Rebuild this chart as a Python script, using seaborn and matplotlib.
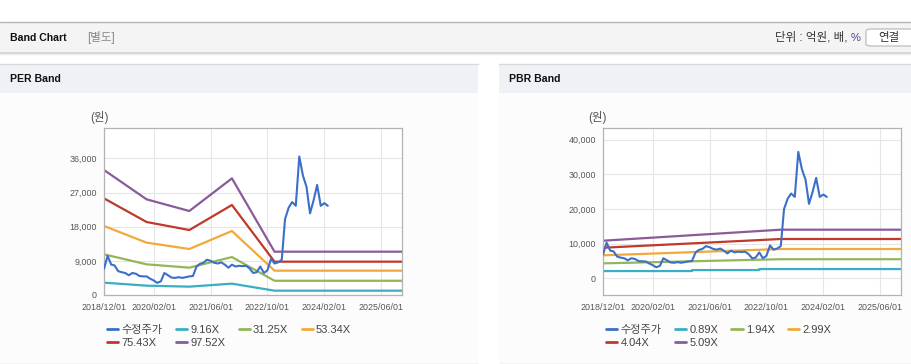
import pandas as pd
import matplotlib.pyplot as plt
import matplotlib.patches as mpatches
from matplotlib.lines import Line2D
import seaborn as sns

# ---------------------------------------------------------------------------
# Data
# ---------------------------------------------------------------------------
price_start = "2018-12-01"
price_values = [6900, 10300, 8000, 7800, 6300, 6000, 5800, 5200, 5800, 5600,
                5000, 4900, 4900, 4300, 3800, 3200, 3600, 5800, 5200, 4600,
                4500, 4700, 4500, 4700, 4900, 5000, 7500, 8200, 8500, 9300,
                9000, 8500, 8300, 8600, 8000, 7200, 8000, 7500, 7700, 7600,
                7700, 7000, 5800, 6000, 7500, 5800, 6500, 9500, 8300, 8600,
                9300, 20000, 23000, 24500, 23500, 36500, 31500, 28500, 21500, 25000,
                29000, 23500, 24200, 23500]

per_dates = ["2018-12-01", "2019-12-01", "2020-12-01", "2021-12-01", "2022-12-01", "2025-12-31"]
per_labels = ["9.16X", "31.25X", "53.34X", "75.43X", "97.52X"]
per_9_16 = [3250, 2460, 2200, 2990, 1140, 1140]
per_31_25 = [10710, 8080, 7200, 10000, 3750, 3750]
per_53_34 = [18180, 13790, 12120, 16860, 6410, 6410]
per_75_43 = [25460, 19230, 17120, 23710, 8780, 8780]
per_97_52 = [32930, 25200, 22130, 30730, 11410, 11410]

pbr_dates = ["2018-12-01", "2023-02-01", "2025-12-31"]
pbr_floor_dates = ["2018-12-01", "2021-01-01", "2021-01-02", "2022-08-01", "2022-08-02", "2025-12-31"]
pbr_labels = ["0.89X", "1.94X", "2.99X", "4.04X", "5.09X"]
pbr_0_89 = [2110, 2110, 2400, 2400, 2690, 2690]
pbr_1_94 = [4330, 5530, 5530]
pbr_2_99 = [6650, 8470, 8470]
pbr_4_04 = [8840, 11360, 11360]
pbr_5_09 = [10870, 14050, 14050]

tick_dates = ["2018-12-01", "2020-02-01", "2021-06-01", "2022-10-01", "2024-02-01", "2025-06-01"]
per_yticks = [0, 9000, 18000, 27000, 36000]
pbr_yticks = [0, 10000, 20000, 30000, 40000]

price_label = "수정주가"
price_color = "#3b6fc8"
band_colors = ["#3aaec2", "#93b658", "#f2a93b", "#c0392b", "#8b5a9b"]

# ---------------------------------------------------------------------------
# Figure + page chrome (pixel boxes, top-left origin)
# ---------------------------------------------------------------------------
W, H = 912, 364
sns.set_style("white")
plt.rcParams["font.family"] = ["Liberation Sans", "Noto Sans CJK KR", "DejaVu Sans"]

fig = plt.figure(figsize=(W / 100, H / 100), dpi=100)
fig.patch.set_facecolor("white")


def fbox(x0, y0, x1, y1):
    return [x0 / W, 1 - y1 / H, (x1 - x0) / W, (y1 - y0) / H]


def rect(x0, y0, x1, y1, fc, ec="none", lw=0, **kw):
    l, b, w, h = fbox(x0, y0, x1, y1)
    fig.add_artist(mpatches.Rectangle((l, b), w, h, transform=fig.transFigure,
                                      fc=fc, ec=ec, lw=lw, zorder=-5, **kw))


def hline(x0, x1, y, color, lw=1.0):
    fig.add_artist(Line2D([x0 / W, x1 / W], [1 - y / H, 1 - y / H],
                          transform=fig.transFigure, color=color, lw=lw, zorder=-4))


def ftext(x, y, s, **kw):
    fig.text(x / W, 1 - y / H, s, **kw)


# top header bar
rect(0, 22, W, 52, "#f4f4f4")
hline(0, W, 21.5, "#b5b5b5", 1.0)
hline(0, W, 52.5, "#d0d0d0", 1.2)
hline(0, W, 53.5, "#ebebeb", 1.0)
ftext(10, 38, "Band Chart", fontsize=7.6, fontweight="bold", color="#111", va="center")
ftext(87, 38, "[별도]", fontsize=8.3, color="#888", va="center")
ftext(851, 38, "단위 : 억원, 배, ", fontsize=8.3, color="#333", va="center", ha="right")
ftext(861, 38, "%", fontsize=8.0, color="#5a3f8f", va="center", ha="right")
btn = mpatches.FancyBboxPatch((866 / W, 1 - 46 / H), 50 / W, 17 / H,
                              boxstyle="round,pad=0,rounding_size=0.006",
                              transform=fig.transFigure, fc="white", ec="#bdbdbd",
                              lw=0.9, zorder=-3)
fig.add_artist(btn)
ftext(889, 38, "연결", fontsize=8.3, color="#333", va="center", ha="center")

# panel headers and bodies
for x0, x1, name in [(0, 478, "PER Band"), (499, W, "PBR Band")]:
    rect(x0, 64, x1, 93, "#eef1f6")
    rect(x0, 93, x1, 363, "#fcfcfc")
    hline(x0, x1, 64, "#d9d9d9", 1.0)
    hline(x0, x1, 363.5, "#d0d0d0", 1.0)
    ftext(x0 + 10, 79, name, fontsize=7.6, fontweight="bold", color="#111", va="center")

# ---------------------------------------------------------------------------
# Band charts
# ---------------------------------------------------------------------------
price_dates = pd.date_range(price_start, periods=len(price_values), freq="MS")
xlim = (pd.Timestamp("2018-12-01"), pd.Timestamp("2025-11-27"))


def draw_band(ax, band_sets, labels, yticks, ylim):
    ax.set_facecolor("white")
    for (dates, vals), lab, col in zip(band_sets, labels, band_colors):
        sns.lineplot(x=pd.to_datetime(dates), y=vals, ax=ax, color=col, lw=1.6,
                     label=lab, estimator=None, sort=False, zorder=2)
    sns.lineplot(x=price_dates, y=price_values, ax=ax, color=price_color, lw=1.5,
                 label=price_label, zorder=3)

    ax.set_xlim(*xlim)
    ax.set_ylim(*ylim)
    ax.set_xticks(pd.to_datetime(tick_dates))
    ax.set_xticklabels([d.replace("-", "/") for d in tick_dates])
    ax.set_yticks(yticks)
    ax.set_yticklabels([f"{v:,}" for v in yticks])
    ax.set_xlabel("")
    ax.set_ylabel("")
    ax.grid(True, color="#e6e6e6", lw=0.8)
    ax.set_axisbelow(True)
    for sp in ax.spines.values():
        sp.set_color("#b3b3b3")
        sp.set_linewidth(0.9)
    ax.tick_params(axis="both", which="major", length=3, width=0.8, color="#b3b3b3",
                   labelsize=6.4, labelcolor="#555", pad=2)
    ax.tick_params(axis="x", pad=3)

    handles, labs = ax.get_legend_handles_labels()
    # price first, then bands; laid out row by row in 4 columns
    handles = [handles[-1]] + handles[:-1]
    labs = [labs[-1]] + labs[:-1]
    order = [0, 4, 1, 5, 2, 3]
    return [handles[i] for i in order], [labs[i] for i in order]


panels = [
    (104, 402, 99,
     [(per_dates, per_9_16), (per_dates, per_31_25), (per_dates, per_53_34),
      (per_dates, per_75_43), (per_dates, per_97_52)],
     per_labels, per_yticks, (0, 44000), 107),
    (603, 901, 597,
     [(pbr_floor_dates, pbr_0_89), (pbr_dates, pbr_1_94), (pbr_dates, pbr_2_99),
      (pbr_dates, pbr_4_04), (pbr_dates, pbr_5_09)],
     pbr_labels, pbr_yticks, (-4800, 43400), 606),
]

for x0, x1, unit_x, bands, labels, yticks, ylim, leg_x in panels:
    ax = fig.add_axes(fbox(x0, 128, x1, 295))
    h, l = draw_band(ax, bands, labels, yticks, ylim)
    ftext(unit_x, 118, "(원)", fontsize=8.3, color="#555", ha="center", va="center")
    leg = ax.legend(h, l, loc="upper left", ncol=4, frameon=False,
                    bbox_to_anchor=(leg_x / W, 1 - 325 / H),
                    bbox_transform=fig.transFigure, fontsize=8.0,
                    handlelength=1.0, handletextpad=0.3, columnspacing=1.2,
                    labelspacing=0.3, borderpad=0, borderaxespad=0)
    for t in leg.get_texts():
        t.set_color("#444")
    for ln in leg.get_lines():
        ln.set_linewidth(2.0)

fig.savefig("out.png", dpi=100)
